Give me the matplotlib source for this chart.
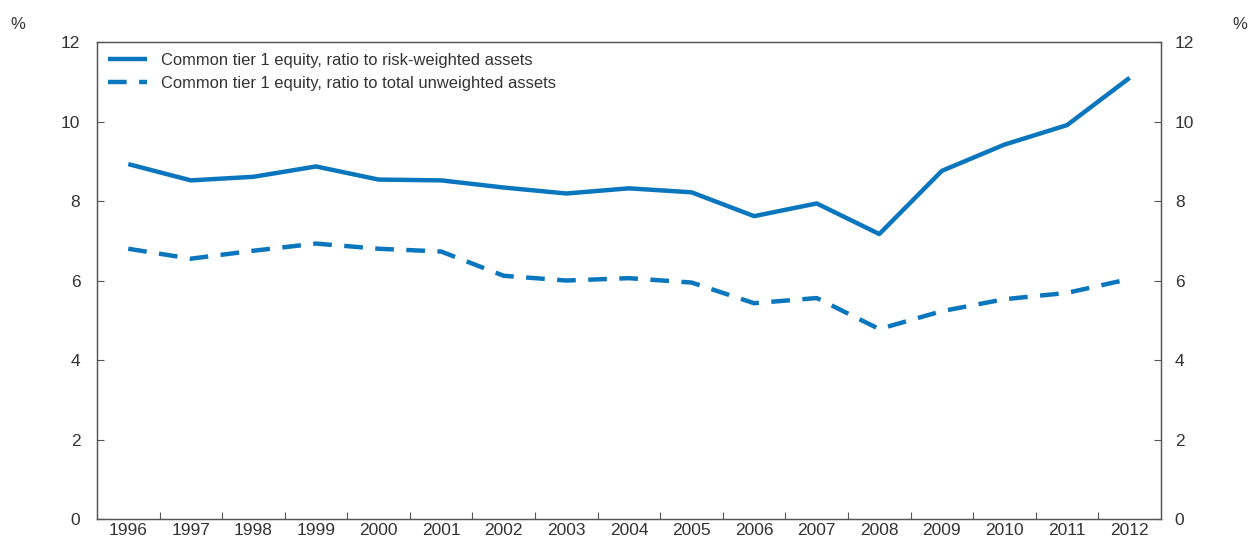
import numpy as np
import matplotlib.pyplot as plt

plt.rcParams["font.family"] = ["Liberation Sans", "DejaVu Sans"]

years = [str(y) for y in range(1996, 2013)]
risk_weighted = [8.93, 8.52, 8.61, 8.87, 8.54, 8.52, 8.34, 8.19, 8.32, 8.22,
                 7.62, 7.94, 7.17, 8.76, 9.42, 9.91, 11.10]
unweighted = [6.80, 6.55, 6.75, 6.93, 6.80, 6.73, 6.12, 6.00, 6.06, 5.95,
              5.43, 5.56, 4.78, 5.23, 5.53, 5.69, 6.04]
yticks = [0, 2, 4, 6, 8, 10, 12]

blue = "#0a76bd"
text_col = "#333333"
spine_col = "#555555"

fig = plt.figure(figsize=(12.51, 5.39), dpi=100)
ax = fig.add_axes([0.0775, 0.037, 0.8505, 0.885])

x = np.arange(len(years))
ax.plot(x, risk_weighted, color=blue, lw=3.2, solid_capstyle="butt",
        label="Common tier 1 equity, ratio to risk-weighted assets")
ax.plot(x, unweighted, color=blue, lw=3.2, dashes=(4.2, 2.8),
        label="Common tier 1 equity, ratio to total unweighted assets")

ax.set_xlim(-0.5, len(years) - 0.5)
ax.set_ylim(0, 12)

# year labels in the middle, small ticks at the boundaries
ax.set_xticks(x)
ax.set_xticklabels(years)
ax.set_xticks(np.arange(0.5, len(years) - 1, 1.0), minor=True)
ax.tick_params(axis="x", which="major", length=0, pad=3,
               labelsize=12.5, labelcolor=text_col)
ax.tick_params(axis="x", which="minor", length=5, direction="in",
               color=spine_col, width=0.8)

ax.set_yticks(yticks)
ax.tick_params(axis="y", which="major", length=5, direction="in",
               color=spine_col, width=0.8, labelsize=12.5,
               labelcolor=text_col, pad=12)

ax2 = ax.twinx()
ax2.set_ylim(ax.get_ylim())
ax2.set_yticks(yticks)
ax2.tick_params(axis="y", which="major", length=5, direction="in",
                color=spine_col, width=0.8, labelsize=12.5,
                labelcolor=text_col, pad=10)

for a in (ax, ax2):
    for s in a.spines.values():
        s.set_color(spine_col)
        s.set_linewidth(0.9)

leg = ax.legend(loc="upper left", bbox_to_anchor=(0.0, 1.0), frameon=False,
                fontsize=11.9, handlelength=2.4, handletextpad=0.8,
                labelspacing=0.5, borderaxespad=0.25)
for t in leg.get_texts():
    t.set_color(text_col)

fig.text(0.008, 0.955, "%", fontsize=12, color=text_col, ha="left", va="center")
fig.text(0.997, 0.955, "%", fontsize=12, color=text_col, ha="right", va="center")

fig.savefig("out.png", dpi=100)
